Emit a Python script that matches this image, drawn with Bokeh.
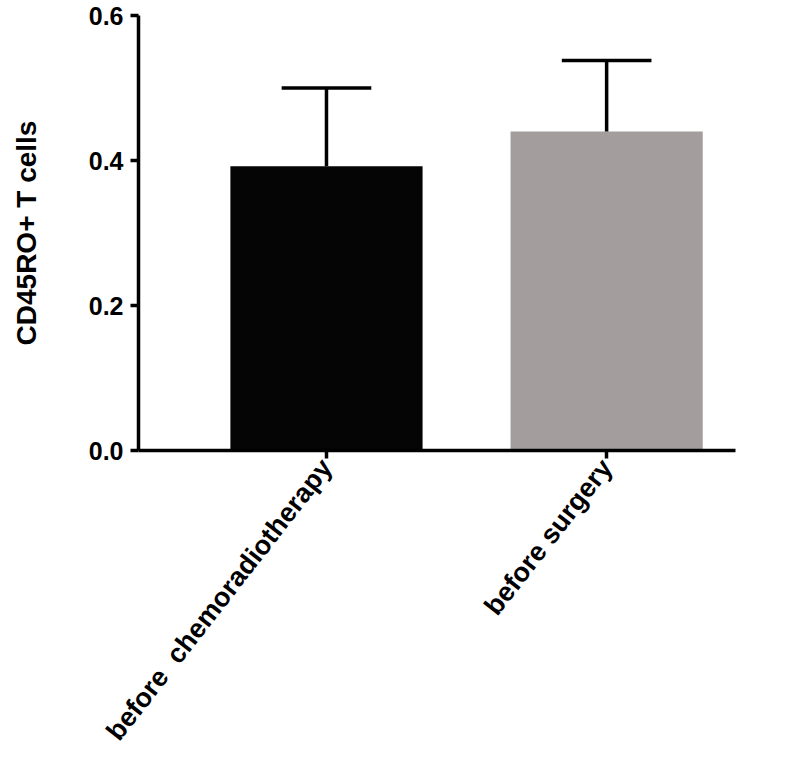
import math
from bokeh.plotting import figure
from bokeh.models import Range1d, FixedTicker, PrintfTickFormatter
from bokeh.embed import file_html
from bokeh.resources import INLINE

categories = ["before\u00a0 chemoradiotherapy", "before surgery"]
means = [0.392, 0.440]
errors = [0.108, 0.098]
colors = ["#050505", "#a39d9e"]
y_ticks = [0.0, 0.2, 0.4, 0.6]

xs = [i + 1 for i in range(len(categories))]
tops = [m + e for m, e in zip(means, errors)]

p = figure(width=790, height=760, output_backend="svg", toolbar_location=None,
           x_range=Range1d(0.329, 2.46), y_range=Range1d(0, 0.6),
           min_border_left=138, min_border_top=15, min_border_right=55, min_border_bottom=310)
p.outline_line_color = None
p.xgrid.visible = False
p.ygrid.visible = False

p.vbar(x=xs, top=means, bottom=0, width=0.686, fill_color=colors, line_color=None)
p.segment(x0=xs, y0=means, x1=xs, y1=tops, line_color="black", line_width=3.5)
p.segment(x0=[x - 0.16 for x in xs], y0=tops, x1=[x + 0.16 for x in xs], y1=tops,
          line_color="black", line_width=3.5)

font = "Liberation Sans"
for ax in (p.xaxis[0], p.yaxis[0]):
    ax.axis_line_width = 3.5
    ax.axis_line_color = "black"
    ax.major_tick_line_width = 3.5
    ax.major_tick_line_color = "black"
    ax.major_tick_out = 8
    ax.major_tick_in = 0
    ax.minor_tick_out = 0
    ax.minor_tick_in = 0
    ax.major_label_text_font = font
    ax.major_label_text_font_style = "bold"
    ax.major_label_text_color = "black"

p.yaxis.ticker = FixedTicker(ticks=y_ticks)
p.yaxis.formatter = PrintfTickFormatter(format="%.1f")
p.yaxis.major_label_text_font_size = "25px"
p.yaxis.major_label_standoff = 7
p.yaxis.axis_label = "CD45RO+ T cells"
p.yaxis.axis_label_text_font = font
p.yaxis.axis_label_text_font_style = "bold"
p.yaxis.axis_label_text_font_size = "28px"
p.yaxis.axis_label_text_color = "black"
p.yaxis.axis_label_standoff = 44

p.xaxis.ticker = FixedTicker(ticks=xs)
p.xaxis.major_label_overrides = {x: c for x, c in zip(xs, categories)}
p.xaxis.major_label_text_font_size = "27px"
p.xaxis.major_label_orientation = math.radians(52)
p.xaxis.major_label_standoff = 4

open("out.html", "w").write(file_html(p, INLINE))
